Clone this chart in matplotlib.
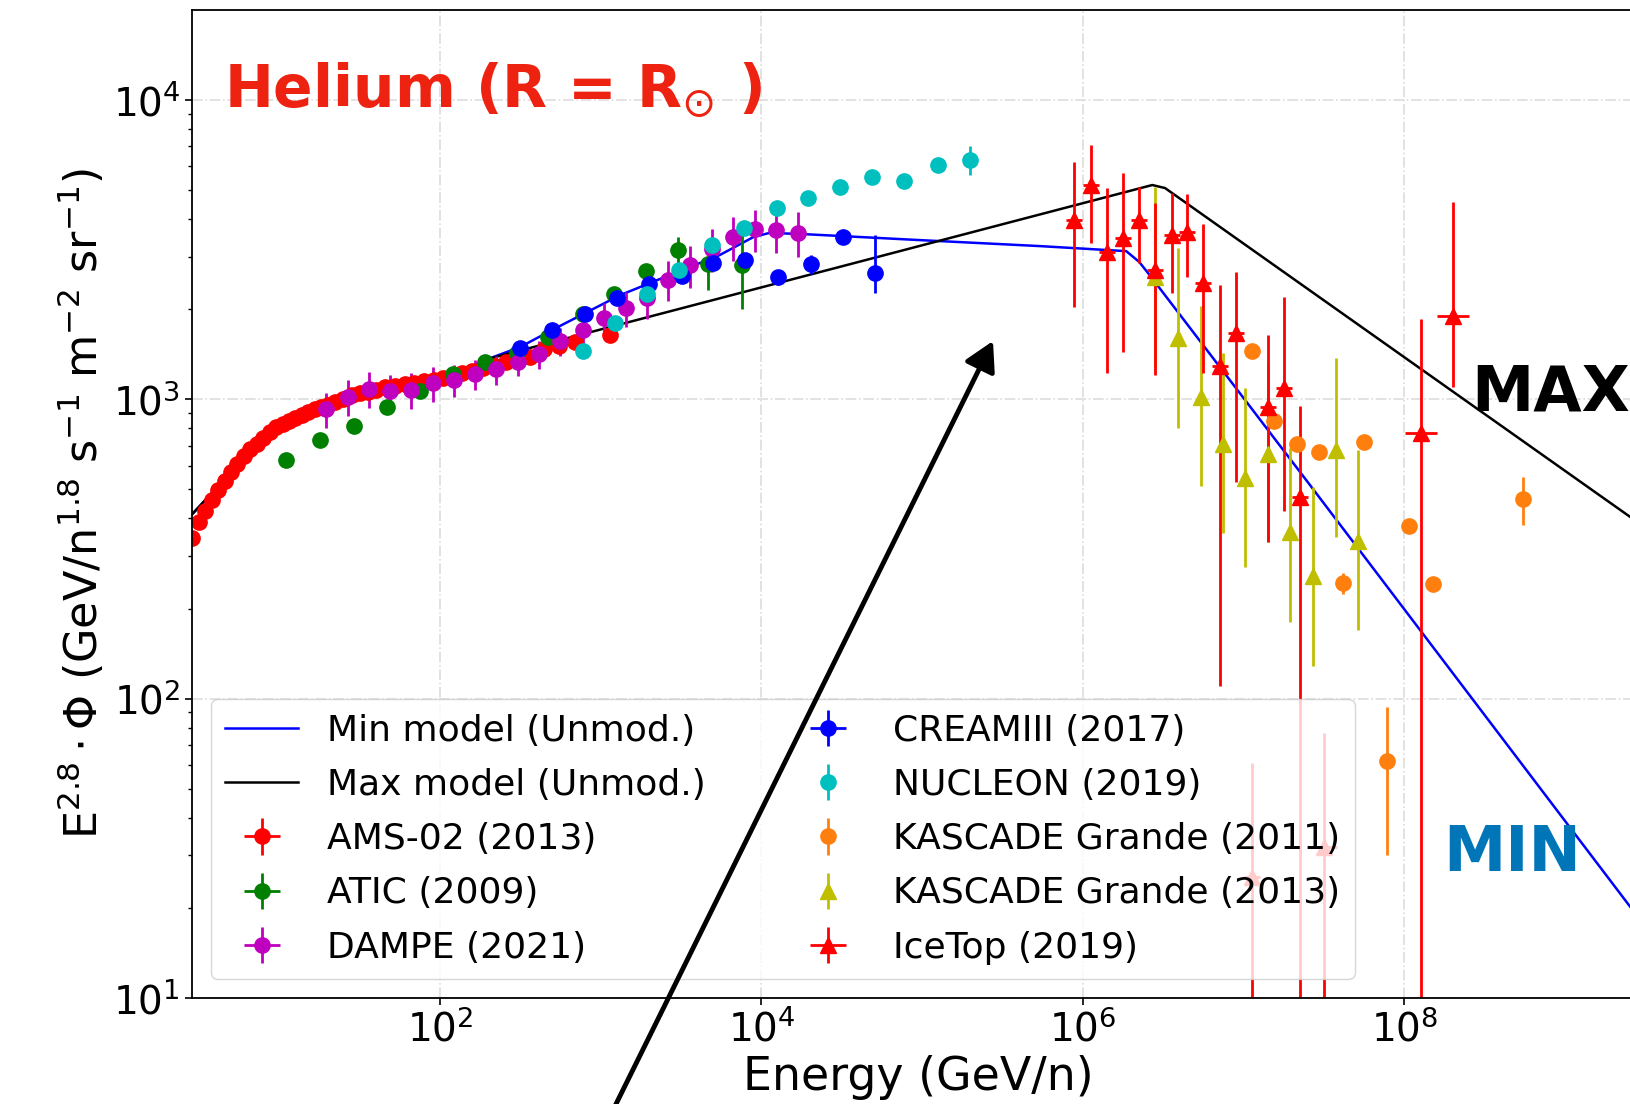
import numpy as np
import matplotlib
matplotlib.use('Agg')
import matplotlib.pyplot as plt
from matplotlib.patches import FancyArrowPatch
from matplotlib.ticker import NullLocator, LogLocator

plt.rcParams['font.family'] = 'DejaVu Sans'
plt.rcParams['mathtext.fontset'] = 'dejavusans'

# --- model curves (unmodulated) ---
min_E = [2.8, 4, 6.3, 10, 16, 32, 63, 100, 160, 200, 316, 500, 1320, 2100, 5500, 8900,
         11200, 18200, 96600, 537000, 1.86e6, 2.24e6, 2.6e6, 2.45e7, 3.1e9]
min_flux = [407, 500, 660, 830, 930, 1050, 1120, 1190, 1290, 1365, 1496, 1706, 2228, 2466, 3034,
            3483, 3597, 3565, 3404, 3251, 3126, 2877, 2600, 537, 17.5]
max_E = [2.8, 4, 6.3, 10, 16, 32, 63, 100, 160, 200, 2.7e6, 3.24e6, 3.1e9]
max_flux = [407, 500, 660, 830, 930, 1050, 1120, 1190, 1290, 1365, 5200, 5080, 375]

# --- data ---
ams_E = [2.88, 3.16, 3.47, 3.80, 4.17, 4.57, 5.01, 5.50, 6.03, 6.61, 7.24, 7.94, 8.71, 9.55,
         10.5, 11.5, 12.6, 13.8, 15.1, 16.6, 18.2, 20.0, 22.4, 25.1, 28.2, 31.6, 35.5, 39.8,
         45.7, 52.5, 60.3, 69.2, 79.4, 91.2, 105, 120, 138, 158, 186, 219, 257, 302, 363,
         447, 550, 692, 1150]
ams_flux = [345, 388, 424, 460, 496, 532, 570, 608, 645, 680, 710, 745, 778, 808, 826, 845,
            866, 888, 908, 926, 944, 960, 980, 1005, 1030, 1048, 1062, 1078, 1097, 1110, 1122,
            1136, 1150, 1162, 1176, 1192, 1222, 1242, 1268, 1295, 1330, 1365, 1390, 1470,
            1505, 1550, 1640]

atic_E = [11.0, 17.9, 29.2, 46.8, 75.2, 120, 191, 302, 468, 776, 1202, 1905, 3020, 4677, 7586]
atic_flux = [627, 731, 815, 942, 1066, 1215, 1335, 1430, 1614, 1929, 2248, 2690, 3160, 2830, 2810]
atic_err = [10, 12, 15, 18, 20, 25, 30, 35, 45, 60, 90, 150, 330, 520, 800]

dampe_E = [19.5, 26.9, 36.3, 49.0, 66.1, 90.4, 123, 166, 224, 305, 413, 562, 776, 1047, 1435,
           1950, 2630, 3590, 4900, 6610, 9120, 12300, 16800]
dampe_flux = [929, 1019, 1082, 1066, 1075, 1133, 1159, 1213, 1260, 1333, 1417, 1566, 1700, 1871,
              2018, 2178, 2512, 2810, 3177, 3483, 3707, 3680, 3600]
dampe_err = [125, 140, 150, 140, 150, 150, 140, 140, 140, 140, 150, 170, 200, 220, 270, 320, 380,
             450, 520, 580, 600, 600, 620]

cream_E = [316, 501, 794, 1259, 1995, 3199, 5012, 7943, 12590, 20280, 32060, 50700]
cream_flux = [1484, 1706, 1929, 2180, 2427, 2582, 2850, 2917, 2563, 2832, 3485, 2642]
cream_lo = [20, 25, 30, 40, 50, 60, 80, 100, 150, 200, 170, 380]
cream_hi = [20, 25, 30, 40, 50, 60, 80, 100, 150, 200, 170, 900]

nucleon_E = [776, 1230, 1950, 3090, 4900, 7762, 12450, 19500, 30900, 49000, 76700, 125000, 197700]
nucleon_flux = [1449, 1800, 2249, 2704, 3281, 3733, 4355, 4710, 5120, 5530, 5360, 6070, 6310]
nucleon_err = [30, 35, 45, 55, 65, 75, 90, 100, 120, 140, 150, 250, 700]

kg11_E = [1.12e7, 1.54e7, 2.14e7, 2.95e7, 4.12e7, 5.62e7, 7.76e7, 1.07e8, 1.50e8, 5.43e8]
kg11_flux = [1449, 845, 710, 667, 243, 719, 62, 378, 241, 465]
kg11_err = [40, 30, 25, 25, 20, 25, 32, 15, 10, 85]

kg13_E = [2.79e6, 3.89e6, 5.41e6, 7.41e6, 1.02e7, 1.41e7, 1.95e7, 2.69e7, 3.73e7, 5.12e7]
kg13_flux = [2565, 1603, 1018, 710, 546, 656, 360, 257, 676, 337]
kg13_up = [5120, 3207, 2051, 1429, 1091, 1320, 687, 509, 1374, 676]
kg13_low = [1280, 802, 513, 357, 276, 334, 180, 129, 347, 169]

icetop_E = [8.77e5, 1.12e6, 1.41e6, 1.77e6, 2.22e6, 2.79e6, 3.56e6, 4.43e6, 5.56e6, 7.10e6,
            8.91e6, 1.12e7, 1.41e7, 1.77e7, 2.24e7, 3.16e7, 1.26e8, 2.0e8]
icetop_flux = [3972, 5200, 3105, 3457, 3972, 2704, 3540, 3620, 2449, 1291, 1667, 25.3, 942, 1091,
               472, 31.9, 771, 1897]
icetop_up = [6210, 7080, 5080, 5700, 5120, 4530, 4890, 4855, 3855, 2410, 2660, 61, 1641, 2197,
             951, 77, 1854, 4560]
icetop_low = [2032, 3330, 1224, 1440, 2850, 1205, 2265, 2565, 1224, 110, 530, 1, 334, 423, 1, 1,
              1, 1100]
icetop_dlog = [0.05, 0.05, 0.05, 0.05, 0.05, 0.05, 0.05, 0.05, 0.05, 0.05, 0.05, 0.05, 0.05,
               0.05, 0.05, 0.08, 0.1, 0.1]


def asym(v, low, up):
    v = np.array(v, float)
    return [v - np.array(low, float), np.array(up, float) - v]


def dex(E, d):
    E = np.array(E, float)
    d = np.array(d, float)
    return [E - E / 10**d, E * 10**d - E]


fig = plt.figure(figsize=(16.3, 11.04), dpi=100)
ax = fig.add_axes([192/1630, 1 - 998/1104, (1644 - 192)/1630, 988/1104])

ax.plot(min_E, min_flux, color='b', lw=1.8, label='Min model (Unmod.)')
ax.plot(max_E, max_flux, color='k', lw=1.8, label='Max model (Unmod.)')

kw = dict(ms=11, elinewidth=2)
ax.errorbar(ams_E, ams_flux, yerr=0.02*np.array(ams_flux), xerr=np.zeros(len(ams_E)),
            fmt='o', color='r', label='AMS-02 (2013)', **kw)
ax.errorbar(atic_E, atic_flux, yerr=atic_err, xerr=np.zeros(len(atic_E)),
            fmt='o', color='g', label='ATIC (2009)', **kw)
ax.errorbar(dampe_E, dampe_flux, yerr=dampe_err, xerr=np.zeros(len(dampe_E)),
            fmt='o', color='m', label='DAMPE (2021)', **kw)
ax.errorbar(cream_E, cream_flux, yerr=[cream_lo, cream_hi], xerr=np.zeros(len(cream_E)),
            fmt='o', color='b', label='CREAMIII (2017)', **kw)
ax.errorbar(nucleon_E, nucleon_flux, yerr=nucleon_err,
            fmt='o', color='c', label='NUCLEON (2019)', **kw)
ax.errorbar(kg11_E, kg11_flux, yerr=kg11_err,
            fmt='o', color='C1', label='KASCADE Grande (2011)', **kw)
ax.errorbar(kg13_E, kg13_flux, yerr=asym(kg13_flux, kg13_low, kg13_up),
            fmt='^', color='y', label='KASCADE Grande (2013)', **kw)
ax.errorbar(icetop_E, icetop_flux, yerr=asym(icetop_flux, icetop_low, icetop_up),
            xerr=dex(icetop_E, icetop_dlog),
            fmt='^', color='r', label='IceTop (2019)', **kw)

ax.set_xscale('log')
ax.set_yscale('log')
ax.set_xlim(10**0.4577, 10**9.49)
ax.set_ylim(10, 10**4.3007)
ax.set_xticks([1e2, 1e4, 1e6, 1e8])
ax.xaxis.set_minor_locator(NullLocator())
ax.set_yticks([1e1, 1e2, 1e3, 1e4])
ax.yaxis.set_minor_locator(LogLocator(base=10, subs=np.arange(2, 10)))
ax.tick_params(which='major', labelsize=28, length=5, width=1.2)
ax.tick_params(which='minor', length=3, width=1)
for s in ax.spines.values():
    s.set_linewidth(1.3)
ax.grid(True, which='major', ls='-.', color='#dddddd', lw=1.2)

ax.set_xlabel('Energy (GeV/n)', fontsize=33, labelpad=4)
ax.set_ylabel(r'E$^{2.8}\cdot\Phi$ (GeV/n$^{1.8}$ s$^{-1}$ m$^{-2}$ sr$^{-1}$)', fontsize=32)

ax.legend(ncol=2, fontsize=26, loc='lower left', bbox_to_anchor=(211/1630, 1 - 979/1104),
          bbox_transform=fig.transFigure, borderaxespad=0, labelspacing=0.56,
          columnspacing=2.4)

fig.text(224/1630, 1 - 107/1104, r'Helium (R = R$_{\odot}$ )', color='#EE2211',
         fontsize=42, fontweight='bold', va='baseline')
fig.text(1471/1630, 1 - 411/1104, 'MAX', color='k', fontsize=45, fontweight='bold', va='baseline')
fig.text(1443/1630, 1 - 871/1104, 'MIN', color='#0075B8', fontsize=45, fontweight='bold',
         va='baseline')

arrow = FancyArrowPatch((0.3337, -0.1322), (0.6092, 0.6911), transform=fig.transFigure,
                        arrowstyle='-|>,head_length=0.8,head_width=0.45', mutation_scale=22,
                        lw=3.5, color='k', shrinkA=0, shrinkB=0)
fig.add_artist(arrow)

fig.savefig('out.png', dpi=100)
